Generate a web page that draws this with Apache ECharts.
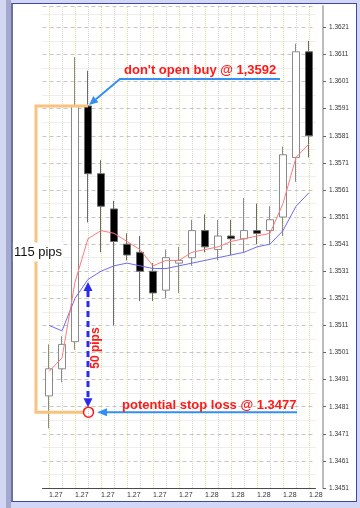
<!DOCTYPE html>
<html><head><meta charset="utf-8">
<script src="https://cdn.jsdelivr.net/npm/echarts@6/dist/echarts.min.js"></script>
<style>
html,body{margin:0;padding:0;}
#wrap{position:relative;width:360px;height:508px;background:#d3d7f3;overflow:hidden}
#strip{position:absolute;left:6px;top:0;width:5px;height:508px;background:#a3a8cc}
#panel{position:absolute;left:11px;top:3px;width:343px;height:497px;background:#fff;border-top:1px solid #3a4aa8;border-right:1px solid #3a4aa8;border-bottom:1px solid #3a4aa8;border-left:2px solid #6b70a0}
#c{position:absolute;left:0;top:0;width:360px;height:508px}
</style>
</head><body>
<div id="wrap"><div id="strip"></div><div id="panel"></div><div id="c"></div></div>
<script>
// ---- data ----
const categories = ['1.27','1.27','1.27','1.27','1.27','1.27','1.27','1.27','1.27','1.27','1.27',
                    '1.28','1.28','1.28','1.28','1.28','1.28','1.28','1.28','1.28','1.28'];
const openP  = [1.3485,1.3495,1.3505,1.3592,1.3567,1.3554,1.3541,1.3538,1.3531,1.3524,1.3534,1.3536,1.3546,1.3539,1.3544,1.3543,1.3546,1.3546,1.3551,1.3573,1.3612];
const closeP = [1.3495,1.3504,1.3592,1.3567,1.3555,1.3542,1.3537,1.3531,1.3523,1.3536,1.3535,1.3546,1.3540,1.3544,1.3543,1.3546,1.3545,1.3550,1.3574,1.3612,1.3581];
const lowP   = [1.3473,1.3490,1.3502,1.3549,1.3538,1.3511,1.3535,1.3520,1.3520,1.3521,1.3523,1.3533,1.3538,1.3535,1.3537,1.3538,1.3541,1.3541,1.3544,1.3564,1.3573];
const highP  = [1.3504,1.3507,1.3610,1.3605,1.3572,1.3557,1.3545,1.3544,1.3534,1.3539,1.3540,1.3550,1.3552,1.3550,1.3550,1.3558,1.3556,1.3555,1.3577,1.3615,1.3616];
const maFast = [1.3494,1.3499,1.3527,1.3543,1.3546,1.3545,1.3542,1.3539,1.3533,1.3535,1.3535,1.3538,1.3539,1.3540,1.3542,1.3543,1.3544,1.3545,1.3556,1.3573,1.3578];
const maSlow = [1.3511,1.3509,1.3521,1.3528,1.3531,1.3533,1.3534,1.3533,1.3532,1.3532,1.3533,1.3534,1.3535,1.3536,1.3537,1.3538,1.3540,1.3541,1.3546,1.3555,1.3560];
const yMin = 1.3451, yStep = 0.001, yMax = 1.36289;
// annotation levels
const buyLevel = 1.3592, buyLabelLevel = 1.3602, stopLevel = 1.3479, targetLevel = 1.3527;
const buyText = "don't open buy @ 1,3592";
const stopText = "potential stop loss @ 1.3477";
const rangeText = "115 pips";
const distText = "50 pips";

const chart = echarts.init(document.getElementById('c'), null, {renderer: 'canvas'});
const candleData = categories.map((_, i) => [openP[i], closeP[i], lowP[i], highP[i]]);
const FONT = 'Liberation Sans, Arial, sans-serif';

// vertical dotted grid through each bar (yellow on labelled bars, grey between)
const vGrid = categories.map((_, i) => ({
  xAxis: i,
  lineStyle: {color: i % 2 === 0 ? '#e3e38c' : '#d8d8d8', type: 'dotted', width: 1}
}));

chart.setOption({
  animation: false,
  backgroundColor: 'transparent',
  grid: {left: 42.5, right: 44.5, top: 6, bottom: 20},
  xAxis: {
    type: 'category', data: categories, boundaryGap: true,
    axisLine: {show: true, lineStyle: {color: '#4a4a4a', width: 1}},
    axisTick: {show: false},
    axisLabel: {interval: 1, color: '#333', fontSize: 7, fontFamily: FONT, align: 'left', margin: 4},
    splitLine: {show: false}
  },
  yAxis: {
    type: 'value', position: 'right', offset: 7.5, min: yMin, max: yMax, interval: yStep,
    axisLine: {show: true, lineStyle: {color: '#bcbcbc', width: 2}},
    axisTick: {show: true, length: 3, lineStyle: {color: '#666'}},
    axisLabel: {color: '#333', fontSize: 6.5, fontFamily: FONT, margin: 6, showMaxLabel: false,
      formatter: v => v.toFixed(4)},
    splitLine: {show: true, lineStyle: {color: '#c6c6c6', type: [4, 3], width: 1}},
    minorTick: {show: false, splitNumber: 2},
    minorSplitLine: {show: true, lineStyle: {color: '#dcdcdc', type: 'dotted', width: 1}}
  },
  series: [
    {type: 'candlestick', data: candleData, barWidth: 8, z: 2,
     itemStyle: {color: '#ffffff', color0: '#000000', borderColor: '#8a8a8a', borderColor0: '#6a6a6a', borderWidth: 1},
     markLine: {silent: true, symbol: 'none', label: {show: false}, z: 1, data: vGrid}},
    {type: 'line', data: maSlow, symbol: 'none', z: 3, lineStyle: {color: '#6c6cf2', width: 1}},
    {type: 'line', data: maFast, symbol: 'none', z: 4, lineStyle: {color: '#ff7a7a', width: 1}}
  ]
});

// ---- annotations anchored to data via the chart's own scales ----
const P = (i, v) => chart.convertToPixel({gridIndex: 0}, [i, v]);
const step = P(1, buyLevel)[0] - P(0, buyLevel)[0];
const xL = P(0, buyLevel)[0] - step;
const xTip = P(3, buyLevel)[0];
const yTop = P(0, buyLevel)[1];
const yBot = P(0, stopLevel)[1];
const yTgt = P(0, targetLevel)[1];
const yBuyLbl = P(0, buyLabelLevel)[1];

function head(tip, from, len, hw) {
  const dx = tip[0] - from[0], dy = tip[1] - from[1];
  const L = Math.hypot(dx, dy), ux = dx / L, uy = dy / L;
  const bx = tip[0] - ux * len, by = tip[1] - uy * len;
  return {pts: [[tip[0], tip[1]], [bx - uy * hw, by + ux * hw], [bx + uy * hw, by - ux * hw]], base: [bx, by]};
}

const ORANGE = '#f9c27f', BLUE = '#3390f0', DBLUE = '#2b2bef', RED = '#ff1a1a';
const g = [];
// orange bracket
g.push({type: 'polyline', z: 100, shape: {points: [[xTip, yTop], [xL, yTop], [xL, yBot], [xTip - 5, yBot]]},
  style: {stroke: ORANGE, lineWidth: 3, fill: null}});
// 115 pips label
g.push({type: 'text', z: 101, x: xL + 2, y: (yTop + yBot) / 2 - 7,
  style: {text: rangeText, font: '13px ' + FONT, fill: '#111', align: 'center', verticalAlign: 'middle',
    backgroundColor: '#fff', padding: [3, 1]}});
// top blue arrow
const knee = [xTip + 32, yBuyLbl];
const tipTop = [xTip + 1, yTop - 1];
const h1 = head(tipTop, knee, 9, 4);
g.push({type: 'polyline', z: 100, shape: {points: [[xTip + 192, yBuyLbl], knee, h1.base]},
  style: {stroke: BLUE, lineWidth: 2, fill: null}});
g.push({type: 'polygon', z: 100, shape: {points: h1.pts}, style: {fill: BLUE}});
g.push({type: 'text', z: 101, x: knee[0] + 4, y: yBuyLbl - 8,
  style: {text: buyText, font: 'bold 13px ' + FONT, fill: RED, verticalAlign: 'middle'}});
// stop-loss arrow
const tipSL = [xTip + 9, yBot];
const h2 = head(tipSL, [xTip + 209, yBot], 10, 4);
g.push({type: 'line', z: 100, shape: {x1: xTip + 209, y1: yBot, x2: h2.base[0], y2: yBot},
  style: {stroke: BLUE, lineWidth: 2}});
g.push({type: 'polygon', z: 100, shape: {points: h2.pts}, style: {fill: BLUE}});
g.push({type: 'text', z: 101, x: xTip + 34, y: yBot - 7,
  style: {text: stopText, font: 'bold 13px ' + FONT, fill: RED, verticalAlign: 'middle'}});
// red circle
g.push({type: 'circle', z: 102, shape: {cx: xTip + 0.5, cy: yBot, r: 5}, style: {stroke: RED, lineWidth: 1.5, fill: null}});
// dashed double arrow (50 pips)
const hU = head([xTip, yTgt], [xTip, yBot], 9, 4.5);
const hD = head([xTip, yBot - 5], [xTip, yTgt], 9, 4.5);
g.push({type: 'line', z: 101, shape: {x1: xTip, y1: hU.base[1], x2: xTip, y2: hD.base[1]},
  style: {stroke: DBLUE, lineWidth: 3, lineDash: [6, 4]}});
g.push({type: 'polygon', z: 101, shape: {points: hU.pts}, style: {fill: DBLUE}});
g.push({type: 'polygon', z: 101, shape: {points: hD.pts}, style: {fill: DBLUE}});
g.push({type: 'text', z: 101, x: xTip + 8, y: (yTgt + yBot) / 2 + 1, rotation: Math.PI / 2,
  style: {text: distText, font: 'bold 12px ' + FONT, fill: RED, align: 'center', verticalAlign: 'middle'}});

chart.setOption({graphic: g});
</script>
</body></html>
